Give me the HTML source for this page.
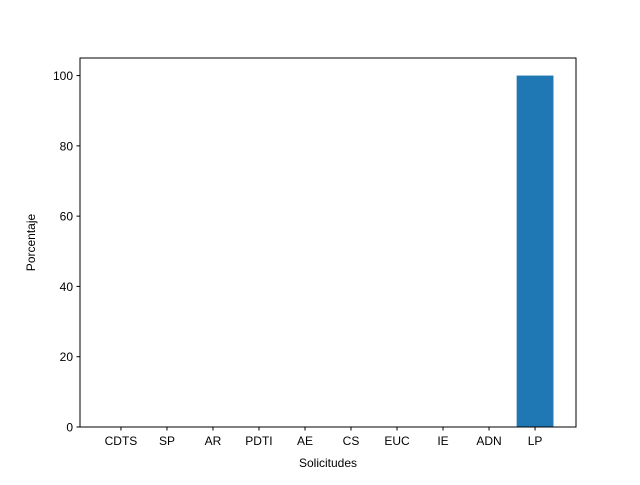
<!DOCTYPE html>
<html><head><meta charset="utf-8"><style>
html,body{margin:0;padding:0;background:#fff;}
svg text{font-family:"Liberation Sans","DejaVu Sans",sans-serif;font-size:12px;fill:#000;}
</style></head><body>
<svg id="chart" width="640" height="480" xmlns="http://www.w3.org/2000/svg">
<rect width="640" height="480" fill="#fff"/>
<g id="bars"></g>
<rect x="80" y="58" width="496" height="369" fill="none" stroke="#000" stroke-width="1"/>
<g id="ticks"></g>
<text x="328" y="467" text-anchor="middle">Solicitudes</text>
<text transform="translate(35,242.5) rotate(-90)" text-anchor="middle">Porcentaje</text>
</svg>
<script>
const categories = ["CDTS","SP","AR","PDTI","AE","CS","EUC","IE","ADN","LP"];
const values = [0,0,0,0,0,0,0,0,0,100];
const yTicks = [0,20,40,60,80,100];

const L=80,R=576,T=58,B=427;
const n=categories.length;
const xmin=-0.4-0.05*(n-1+0.8), xmax=(n-1)+0.4+0.05*(n-1+0.8);
const ymax=Math.max(...values)*1.05;
const xs=v=>L+(v-xmin)/(xmax-xmin)*(R-L);
const ys=v=>B-(v/ymax)*(B-T);
const NS="http://www.w3.org/2000/svg";
const bars=document.getElementById('bars'), ticks=document.getElementById('ticks');
categories.forEach((c,i)=>{
  const r=document.createElementNS(NS,'rect');
  const x0=xs(i-0.4), x1=xs(i+0.4), y0=ys(values[i]);
  r.setAttribute('x',x0);r.setAttribute('y',y0);
  r.setAttribute('width',x1-x0);r.setAttribute('height',B-y0);
  r.setAttribute('fill','#1f77b4');
  
  
  bars.appendChild(r);
  const t=document.createElementNS(NS,'line');
  t.setAttribute('x1',xs(i));t.setAttribute('x2',xs(i));t.setAttribute('y1',B);t.setAttribute('y2',B+3.5);
  t.setAttribute('stroke','#000');
  
  
  ticks.appendChild(t);
  const tx=document.createElementNS(NS,'text');
  tx.setAttribute('x',xs(i));tx.setAttribute('y',B+18);tx.setAttribute('text-anchor','middle');
  tx.textContent=c;
  
  
  ticks.appendChild(tx);
});
yTicks.forEach(v=>{
  const t=document.createElementNS(NS,'line');
  t.setAttribute('x1',L-3.5);t.setAttribute('x2',L);t.setAttribute('y1',ys(v));t.setAttribute('y2',ys(v));
  t.setAttribute('stroke','#000');
  
  
  ticks.appendChild(t);
  const tx=document.createElementNS(NS,'text');
  tx.setAttribute('x',L-7);tx.setAttribute('y',ys(v)+4.5);tx.setAttribute('text-anchor','end');
  tx.textContent=v;
  
  
  ticks.appendChild(tx);
});
</script>
</body></html>
